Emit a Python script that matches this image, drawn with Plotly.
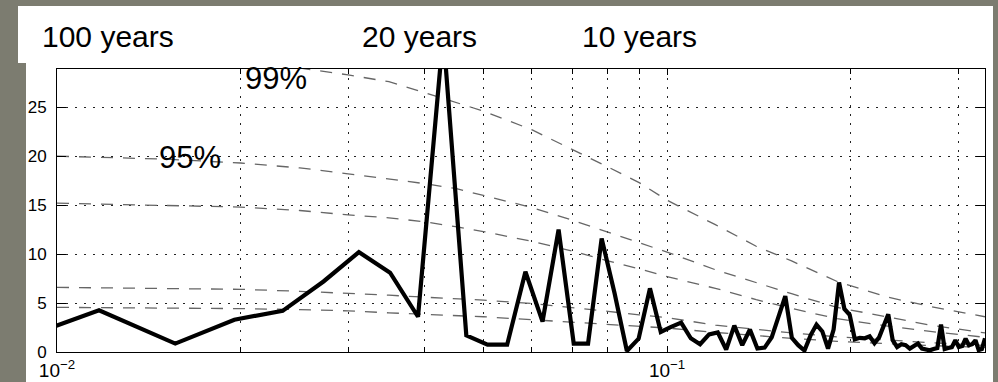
import math
import plotly.graph_objects as go

# Spectrum: harmonic index k of a 256-sample record, frequency = k / 256 (cycles per year)
harmonic = list(range(2, 86))
power = [
    0.29, 4.25, 0.86, 3.3, 4.2, 7.2, 10.2, 8.1, 3.6, 32.5,   # k = 2..11
    1.7, 0.75, 0.75, 8.2, 3.1, 12.5, 0.86, 0.86, 11.6, 6.0,  # k = 12..21
    0.1, 1.37, 6.5, 2.05, 2.56, 3.0, 1.4, 0.8, 1.8, 2.0,     # k = 22..31
    0.25, 2.7, 0.7, 2.3, 0.35, 0.45, 1.5, 3.8, 5.7, 1.45,    # k = 32..41
    0.7, 0.15, 1.7, 2.8, 2.1, 0.35, 2.3, 7.1, 4.4, 3.8,      # k = 42..51
    1.3, 1.45, 1.4, 1.6, 0.9, 1.5, 2.6, 3.85, 1.2, 0.5,      # k = 52..61
    0.8, 0.7, 0.35, 0.6, 0.86, 0.35, 0.3, 0.17, 0.3, 0.4,    # k = 62..71
    2.8, 0.3, 0.4, 0.5, 1.2, 0.5, 0.6, 1.37, 0.7, 0.8,       # k = 72..81
    1.2, 0.2, 0.3, 1.4,                                      # k = 82..85
]
freq = [k / 256 for k in harmonic]

# Red-noise background and confidence levels, read at these frequencies
level_freq = [0.01, 0.015, 0.02, 0.025, 0.03, 0.035, 0.04, 0.045, 0.05, 0.06, 0.07,
              0.08, 0.09, 0.10, 0.12, 0.14, 0.16, 0.19, 0.23, 0.27, 0.332]
level_99 = [30.6, 30.2, 29.6, 29.0, 28.3, 27.6, 26.5, 25.5, 24.6, 22.7, 20.7,
            18.9, 17.3, 15.5, 13.0, 10.8, 9.3, 7.2, 5.6, 4.65, 3.6]
level_95 = [20.0, 19.7, 19.3, 18.8, 18.2, 17.7, 17.2, 16.7, 16.0, 14.75, 13.45,
            12.25, 11.2, 10.2, 8.4, 7.05, 5.95, 4.55, 3.6, 2.75, 1.95]
level_90 = [15.2, 15.0, 14.8, 14.45, 14.0, 13.7, 13.3, 12.8, 12.3, 11.3, 10.3,
            9.3, 8.5, 7.7, 6.5, 5.35, 4.45, 3.4, 2.65, 2.1, 1.5]
level_mean = [6.6, 6.5, 6.4, 6.2, 6.0, 5.8, 5.6, 5.45, 5.3, 4.95, 4.55,
              4.15, 3.8, 3.5, 2.75, 2.3, 1.95, 1.55, 1.2, 0.95, 0.68]
level_low = [4.56, 4.5, 4.43, 4.33, 4.2, 4.0, 3.85, 3.72, 3.6, 3.3, 3.05,
             2.82, 2.62, 2.45, 2.0, 1.65, 1.4, 1.08, 0.84, 0.66, 0.47]

x_major = [0.01, 0.1]
x_major_text = ["10<sup>\u22122</sup>", "10<sup>\u22121</sup>"]
x_minor = [0.02, 0.03, 0.04, 0.05, 0.06, 0.07, 0.08, 0.09, 0.2, 0.3]
y_ticks = [0, 5, 10, 15, 20, 25]
x_limits = [0.01, 85 / 256]
y_limits = [0, 28.9]

# Figure geometry (pixels)
W, H = 998, 382
ML, MR, MT, MB = 57, 13, 69, 30
PW, PH = W - ML - MR, H - MT - MB


def px(x):
    return (x - ML) / PW


def py(y):
    return (H - MB - y) / PH


FONT = "Liberation Sans, Arial, Helvetica, sans-serif"
GRID = dict(showgrid=True, gridcolor="#222222", gridwidth=1, griddash="2px,7px")

fig = go.Figure()

for lv in [level_99, level_95, level_90, level_mean, level_low]:
    fig.add_trace(go.Scatter(
        x=level_freq, y=lv, mode="lines",
        line=dict(color="#666666", width=1.3, dash="12px,10px"),
        hoverinfo="skip", showlegend=False,
    ))

fig.add_trace(go.Scatter(
    x=freq, y=power, mode="lines",
    line=dict(color="black", width=4.2),
    showlegend=False,
))

annotations = [
    dict(text="100 years", x=px(40), y=py(36.5), size=30),
    dict(text="20 years", x=px(360), y=py(36.5), size=30),
    dict(text="10 years", x=px(580), y=py(36.5), size=30),
    dict(text="99%", x=px(243), y=py(78.5), size=31),
    dict(text="95%", x=px(157), y=py(157), size=31),
]

fig.update_layout(
    width=W, height=H,
    margin=dict(l=ML, r=MR, t=MT, b=MB, pad=0, autoexpand=False),
    paper_bgcolor="rgb(124,124,112)",
    plot_bgcolor="white",
    font=dict(family=FONT, color="black"),
    shapes=[
        dict(type="rect", xref="paper", yref="paper", layer="below",
             x0=px(18), x1=px(993), y0=py(63), y1=py(6),
             fillcolor="white", line=dict(width=0)),
        dict(type="rect", xref="paper", yref="paper", layer="below",
             x0=px(26), x1=px(993), y0=py(H + 5), y1=py(63),
             fillcolor="white", line=dict(width=0)),
    ],
    annotations=[
        dict(text=a["text"], x=a["x"], y=a["y"], xref="paper", yref="paper",
             xanchor="left", yanchor="middle", showarrow=False,
             font=dict(family=FONT, size=a["size"], color="black"))
        for a in annotations
    ],
)

fig.update_xaxes(
    type="log", range=[math.log10(x_limits[0]), math.log10(x_limits[1])],
    tickmode="array", tickvals=x_major, ticktext=x_major_text,
    ticks="inside", ticklen=6, tickcolor="black",
    minor=dict(tickmode="array", tickvals=x_minor, ticks="inside", ticklen=5,
               tickcolor="black", **GRID),
    showline=True, linecolor="black", linewidth=1, mirror="ticks",
    zeroline=False, tickfont=dict(family=FONT, size=19, color="black"),
    ticklabelstandoff=1, automargin=False, **GRID,
)
fig.update_yaxes(
    range=y_limits,
    tickmode="array", tickvals=y_ticks,
    ticks="inside", ticklen=9, tickcolor="black",
    showline=True, linecolor="black", linewidth=1, mirror="ticks",
    zeroline=False, tickfont=dict(family=FONT, size=17, color="black"),
    ticklabelstandoff=6, automargin=False, **GRID,
)

fig.write_html("out.html")
